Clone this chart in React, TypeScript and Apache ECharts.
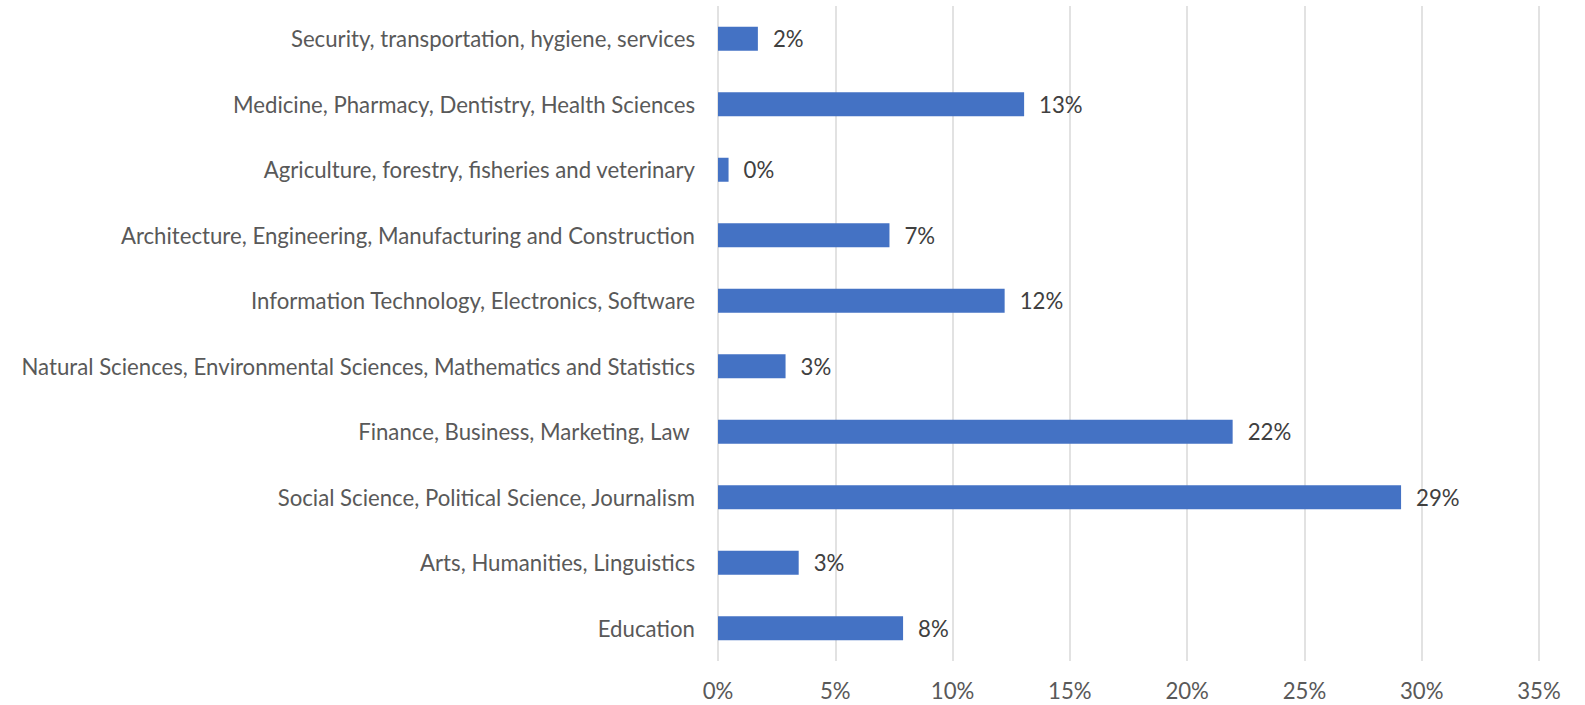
import React, { useEffect, useRef } from "react";
import * as echarts from "echarts";

const categories = [
  "Education",
  "Arts, Humanities, Linguistics",
  "Social Science, Political Science, Journalism",
  "Finance, Business, Marketing, Law ",
  "Natural Sciences, Environmental Sciences, Mathematics and Statistics",
  "Information Technology, Electronics, Software",
  "Architecture, Engineering, Manufacturing and Construction",
  "Agriculture, forestry, fisheries and veterinary",
  "Medicine, Pharmacy, Dentistry, Health Sciences",
  "Security, transportation, hygiene, services",
];

const shares = [7.89, 3.44, 29.12, 21.94, 2.88, 12.22, 7.31, 0.45, 13.05, 1.7];

const FONT = "Lato";
const FS = 22.2;

export default function App() {
  const ref = useRef<HTMLDivElement>(null);
  useEffect(() => {
    document.body.style.margin = "0";
    if (!ref.current) return;
    const chart = echarts.init(ref.current, undefined, { renderer: "svg" });
    chart.setOption({
      animation: false,
      backgroundColor: "#ffffff",
      grid: { left: 718, right: 46, top: 6, bottom: 44, containLabel: false },
      xAxis: {
        type: "value",
        min: 0,
        max: 35,
        interval: 5,
        axisLine: { show: false },
        axisTick: { show: false },
        splitLine: { show: true, lineStyle: { color: "#d9d9d9", width: 1.5 } },
        axisLabel: {
          formatter: "{value}%",
          color: "#595959",
          fontFamily: FONT,
          fontSize: FS,
          margin: 18,
        },
      },
      yAxis: {
        type: "category",
        data: categories,
        axisLine: { show: false },
        axisTick: { show: false },
        axisLabel: {
          color: "#595959",
          fontFamily: FONT,
          fontSize: FS,
          margin: 23,
        },
      },
      series: [
        {
          type: "bar",
          data: shares,
          barWidth: 24,
          itemStyle: { color: "#4472c4" },
          label: {
            show: true,
            position: "right",
            distance: 15,
            color: "#404040",
            fontFamily: FONT,
            fontSize: FS,
            formatter: (p: any) => Math.round(p.value) + "%",
          },
        },
      ],
    });
    return () => chart.dispose();
  }, []);
  return <div ref={ref} style={{ width: 1585, height: 705 }} />;
}
